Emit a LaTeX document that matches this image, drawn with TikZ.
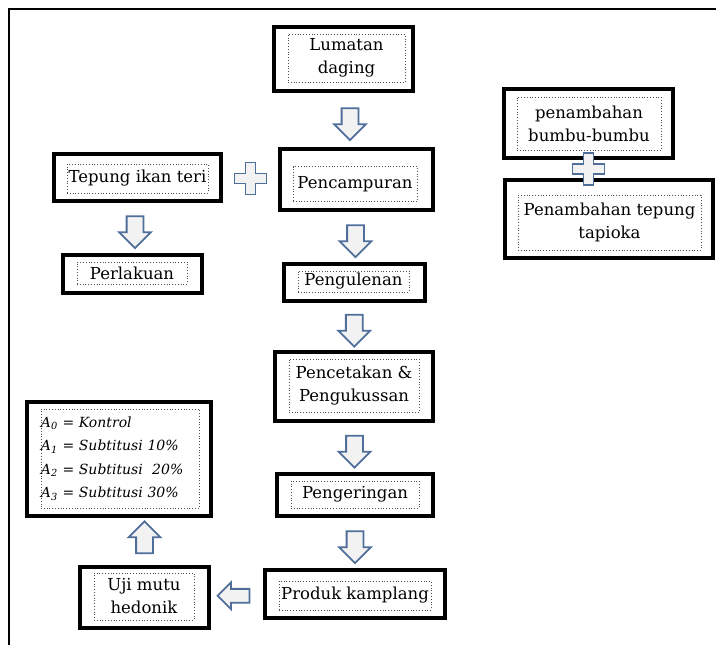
\documentclass[tikz,border=0pt]{standalone}
\usepackage{fontspec}
\setmainfont{DejaVu Serif}
\usetikzlibrary{shapes.arrows, calc}
\definecolor{arrowblue}{HTML}{4F6F9A}
\definecolor{arrowfill}{HTML}{F2F2F2}
\tikzset{
    stepframe/.style={
        rectangle, draw=black, line width=4.5pt, fill=white, inner sep=0pt
    },
    steptext/.style={
        rectangle, draw=black!70, dotted, line width=0.8pt, inner sep=0pt,
        align=center, font=\fontsize{16.5}{23}\selectfont
    },
    blockarrow/.style={
        single arrow, draw=arrowblue, fill=arrowfill, line width=1.8pt,
        minimum width=30pt, minimum height=32pt, inner sep=7.5pt,
        single arrow head extend=7.5pt
    },
    downarrow/.style={blockarrow, shape border rotate=270},
    uparrow/.style={blockarrow, shape border rotate=90},
    leftarrow/.style={blockarrow, shape border rotate=180, minimum width=26pt, inner sep=6pt, single arrow head extend=6.5pt},
    plussign/.pic={
        \draw [draw=arrowblue, fill=arrowfill, line width=1.8pt]
            (-5,-16) -- (5,-16) -- (5,-5) -- (16,-5) -- (16,5) -- (5,5) -- (5,16)
            -- (-5,16) -- (-5,5) -- (-16,5) -- (-16,-5) -- (-5,-5) -- cycle;
    }
}

\begin{document}
\begin{tikzpicture}[x=1pt, y=-1pt]
\useasboundingbox (0,0) rectangle (716,645);

% frame
\draw [line width=1.5pt] (716,9) -- (9,9) -- (9,645);

% === MAIN COLUMN ===
\node (lumatan)     [stepframe, minimum width=139, minimum height=64] at (343.5,59) {};
\node (lumatanT)    [steptext, minimum width=117, minimum height=48] at (346.5,58) {Lumatan\\daging};

\node (pencampuran) [stepframe, minimum width=153, minimum height=61] at (356.5,179.5) {};
\node (pencampuranT)[steptext, minimum width=124, minimum height=35] at (355,184) {Pencampuran};

\node (pengulenan)  [stepframe, minimum width=141, minimum height=37] at (354.5,282.5) {};
\node (pengulenanT) [steptext, minimum width=111, minimum height=21] at (353.5,281.5) {Pengulenan};

\node (pencetakan)  [stepframe, minimum width=158, minimum height=69] at (354,386.5) {};
\node (pencetakanT) [steptext, minimum width=130, minimum height=53] at (354,385.5) {Pencetakan \&\\Pengukussan};

\node (pengeringan) [stepframe, minimum width=156, minimum height=42] at (355,495) {};
\node (pengeringanT)[steptext, minimum width=128, minimum height=27] at (355,494.5) {Pengeringan};

\node (produk)      [stepframe, minimum width=180, minimum height=48] at (355,594) {};
\node (produkT)     [steptext, minimum width=152, minimum height=29] at (355,595.5) {Produk kamplang};

% === LEFT COLUMN ===
\node (tepung)      [stepframe, minimum width=167, minimum height=47] at (137.5,177.5) {};
\node (tepungT)     [steptext, minimum width=141, minimum height=29] at (137.5,178.5) {Tepung ikan teri};

\node (perlakuan)   [stepframe, minimum width=139, minimum height=38] at (132.5,274) {};
\node (perlakuanT)  [steptext, minimum width=110, minimum height=22] at (132,273) {Perlakuan};

\node (uji)         [stepframe, minimum width=129, minimum height=61] at (144.5,597.5) {};
\node (ujiT)        [steptext, minimum width=100, minimum height=47] at (144,596.5) {Uji mutu\\hedonik};

\node (perlakuanA)  [stepframe, minimum width=184, minimum height=114] at (119,459) {};
\node (perlakuanAT) [steptext, text width=158, minimum height=99, align=left,
                     font=\fontsize{14}{23.5}\selectfont\itshape] at (120,458.5) {%
    A\textsubscript{0} = Kontrol\\
    A\textsubscript{1} = Subtitusi 10\%\\
    A\textsubscript{2} = Subtitusi\ \ 20\%\\
    A\textsubscript{3} = Subtitusi 30\%};

% === RIGHT COLUMN ===
\node (bumbu)       [stepframe, minimum width=169, minimum height=69] at (588.5,123.5) {};
\node (bumbuT)      [steptext, minimum width=144, minimum height=53] at (589,123.5) {penambahan\\bumbu-bumbu};

\node (tapioka)     [stepframe, minimum width=208, minimum height=78] at (609,219) {};
\node (tapiokaT)    [steptext, minimum width=183, minimum height=55] at (609.5,222.5) {Penambahan tepung\\tapioka};

% === ARROWS ===
\node (arrLumatan)    [downarrow] at ($(lumatan.south)!0.5!(pencampuran.north)$) {};
\node (arrCampur)     [downarrow] at ($(pencampuran.south)!0.5!(pengulenan.north)$) {};
\node (arrUleni)      [downarrow] at ($(pengulenan.south)!0.5!(pencetakan.north)$) {};
\node (arrCetak)      [downarrow] at ($(pencetakan.south)!0.5!(pengeringan.north)$) {};
\node (arrKering)     [downarrow] at ($(pengeringan.south)!0.5!(produk.north)$) {};
\node (arrTepung)     [downarrow] at ($(tepung.south)!0.5!(perlakuan.north)$) {};
\node (arrProduk)     [leftarrow] at ($(produk.west)!0.5!(uji.east)$) {};
\node (arrUji)        [uparrow]   at ($(uji.north)!0.5!(uji.north |- perlakuanA.south)$) {};

\pic at ($(tepung.east)!0.5!(pencampuran.west)$) {plussign};
\pic at ($(bumbu.south)!0.5!(bumbu.south |- tapioka.north)$) {plussign};

\end{tikzpicture}
\end{document}
